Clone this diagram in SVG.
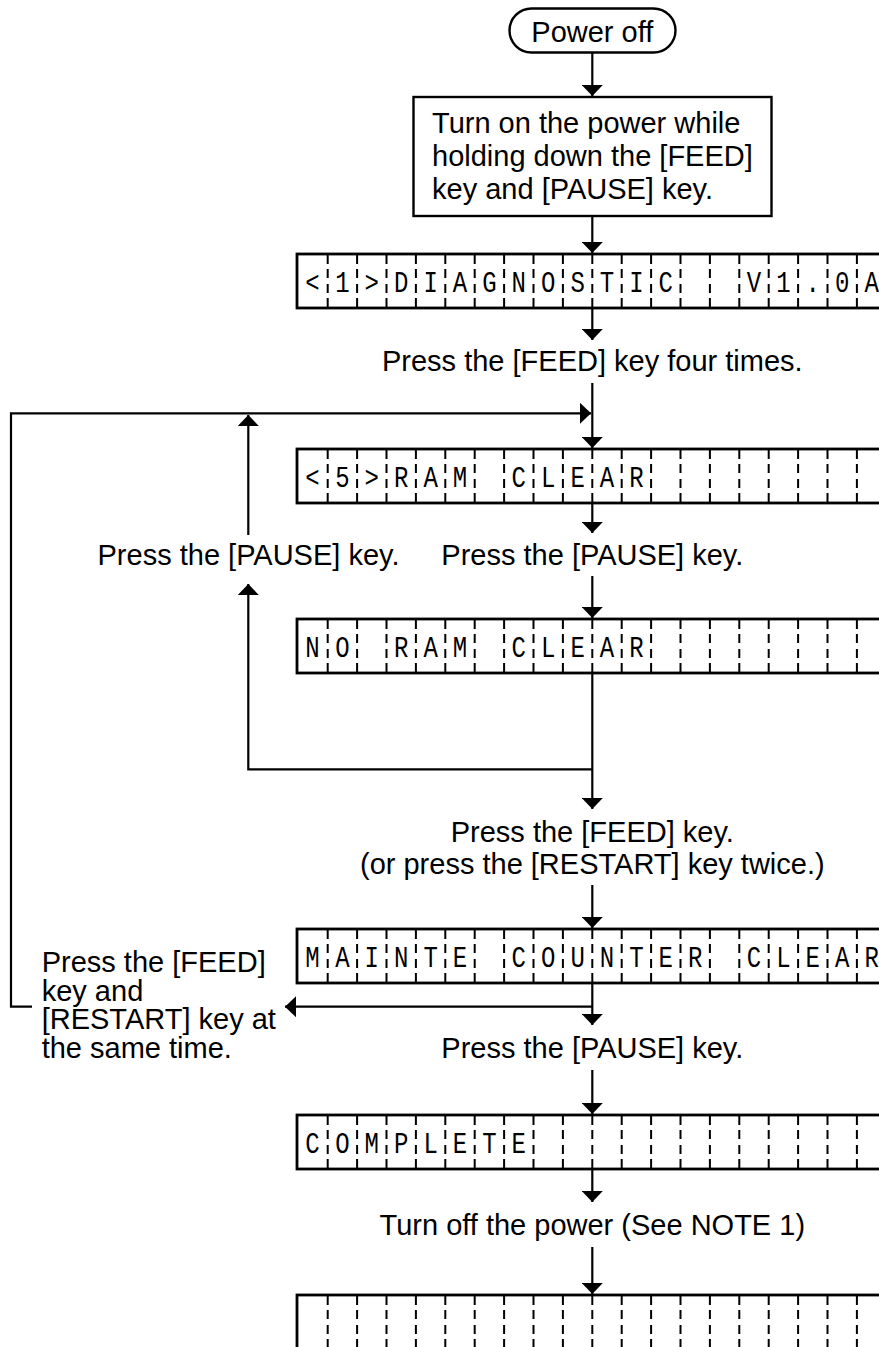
<svg xmlns="http://www.w3.org/2000/svg" xmlns:xlink="http://www.w3.org/1999/xlink" width="879" height="1347" viewBox="0 0 879 1347">
<style>
.t{font-family:"Liberation Sans",Arial,sans-serif;font-size:29px;fill:#000}
.c{text-anchor:middle}
.lcdt{font-family:"Liberation Mono","DejaVu Sans Mono",monospace;font-size:30px;fill:#000;text-anchor:middle}
.frame{fill:#fff;stroke:#000;stroke-width:2.8}
.div{stroke:#000;stroke-width:2;stroke-dasharray:10 5 9 6 9 5 10}
.ln{fill:none;stroke:#000;stroke-width:2.2}
.ar{marker-end:url(#ah)}
</style>
<defs>
<marker id="ah" viewBox="0 0 11 21" refX="11" refY="10.5" markerWidth="11" markerHeight="21" orient="auto" markerUnits="userSpaceOnUse">
<path d="M0,0 L11,10.5 L0,21 z" fill="#000"/>
</marker>
<g id="lcd">
<rect class="frame" x="297" y="0" width="620" height="54"/>
<g class="div">
<line x1="327.7" y1="0" x2="327.7" y2="54"/>
<line x1="357.1" y1="0" x2="357.1" y2="54"/>
<line x1="386.5" y1="0" x2="386.5" y2="54"/>
<line x1="415.9" y1="0" x2="415.9" y2="54"/>
<line x1="445.3" y1="0" x2="445.3" y2="54"/>
<line x1="474.7" y1="0" x2="474.7" y2="54"/>
<line x1="504.1" y1="0" x2="504.1" y2="54"/>
<line x1="533.5" y1="0" x2="533.5" y2="54"/>
<line x1="562.9" y1="0" x2="562.9" y2="54"/>
<line x1="592.3" y1="0" x2="592.3" y2="54"/>
<line x1="621.7" y1="0" x2="621.7" y2="54"/>
<line x1="651.1" y1="0" x2="651.1" y2="54"/>
<line x1="680.5" y1="0" x2="680.5" y2="54"/>
<line x1="709.9" y1="0" x2="709.9" y2="54"/>
<line x1="739.3" y1="0" x2="739.3" y2="54"/>
<line x1="768.7" y1="0" x2="768.7" y2="54"/>
<line x1="798.1" y1="0" x2="798.1" y2="54"/>
<line x1="827.5" y1="0" x2="827.5" y2="54"/>
<line x1="856.9" y1="0" x2="856.9" y2="54"/>
</g>
</g>
</defs>

<g id="connectors">
<path class="ln ar" d="M592.3,53 V96"/>
<path class="ln ar" d="M592.3,216 V253"/>
<path class="ln ar" d="M592.3,308 V340"/>
<path class="ln ar" d="M592.3,383 V448"/>
<path class="ln ar" d="M32,1006.7 H11 V413.3 H591"/>
<path class="ln ar" d="M592.3,503 V533"/>
<path class="ln ar" d="M592.3,576 V618"/>
<path class="ln ar" d="M248.3,535 V415"/>
<path class="ln ar" d="M592.3,673 V809"/>
<path class="ln ar" d="M592.3,769.3 H248.3 V584"/>
<path class="ln ar" d="M592.3,885 V928"/>
<path class="ln ar" d="M592.3,983 V1025"/>
<path class="ln ar" d="M592.3,1006.7 H285"/>
<path class="ln ar" d="M592.3,1070 V1114"/>
<path class="ln ar" d="M592.3,1169 V1202"/>
<path class="ln ar" d="M592.3,1247 V1294"/>
</g>

<g id="power-off">
<rect x="509.5" y="8.5" width="166" height="44" rx="22" ry="22" fill="#fff" stroke="#000" stroke-width="2.4"/>
<text class="t c" x="592.3" y="41.5">Power off</text>
</g>

<g id="turn-on">
<rect x="413.5" y="97" width="358" height="119" fill="#fff" stroke="#000" stroke-width="2.4"/>
<text class="t" x="432" y="133">Turn on the power while</text>
<text class="t" x="432" y="166">holding down the [FEED]</text>
<text class="t" x="432" y="198.5">key and [PAUSE] key.</text>
</g>

<g id="lcd-diagnostic">
<use xlink:href="#lcd" transform="translate(0,254)"/>
<text class="lcdt" transform="scale(0.8 1)" y="292" x="390.6 428 464.75 501.5 538.25 575 611.75 648.5 685.25 722 758.75 795.5 832.25 942.5 979.25 1016 1052.75 1089.5">&lt;1&gt;DIAGNOSTICV1.0A</text>
</g>

<g id="label-feed-four">
<text class="t c" x="592.3" y="371">Press the [FEED] key four times.</text>
</g>

<g id="lcd-ram-clear">
<use xlink:href="#lcd" transform="translate(0,449)"/>
<text class="lcdt" transform="scale(0.8 1)" y="487" x="390.6 428 464.75 501.5 538.25 575 648.5 685.25 722 758.75 795.5">&lt;5&gt;RAMCLEAR</text>
</g>

<g id="label-pause-left">
<text class="t c" x="248.5" y="565">Press the [PAUSE] key.</text>
</g>
<g id="label-pause-right">
<text class="t c" x="592.3" y="565">Press the [PAUSE] key.</text>
</g>

<g id="lcd-no-ram-clear">
<use xlink:href="#lcd" transform="translate(0,619)"/>
<text class="lcdt" transform="scale(0.8 1)" y="657" x="390.6 428 501.5 538.25 575 648.5 685.25 722 758.75 795.5">NORAMCLEAR</text>
</g>

<g id="label-feed">
<text class="t c" x="592.3" y="842">Press the [FEED] key.</text>
<text class="t c" x="592.3" y="874">(or press the [RESTART] key twice.)</text>
</g>

<g id="lcd-mainte">
<use xlink:href="#lcd" transform="translate(0,929)"/>
<text class="lcdt" transform="scale(0.8 1)" y="967" x="390.6 428 464.75 501.5 538.25 575 648.5 685.25 722 758.75 795.5 832.25 869 942.5 979.25 1016 1052.75 1089.5">MAINTECOUNTERCLEAR</text>
</g>

<g id="label-feed-restart">
<text class="t" x="41.7" y="972">Press the [FEED]</text>
<text class="t" x="41.7" y="1000.5">key and</text>
<text class="t" x="41.7" y="1029">[RESTART] key at</text>
<text class="t" x="41.7" y="1057.5">the same time.</text>
</g>

<g id="label-pause-bottom">
<text class="t c" x="592.3" y="1058">Press the [PAUSE] key.</text>
</g>

<g id="lcd-complete">
<use xlink:href="#lcd" transform="translate(0,1115)"/>
<text class="lcdt" transform="scale(0.8 1)" y="1153" x="390.6 428 464.75 501.5 538.25 575 611.75 648.5">COMPLETE</text>
</g>

<g id="label-turn-off">
<text class="t c" x="592.3" y="1235">Turn off the power (See NOTE 1)</text>
</g>

<g id="lcd-blank">
<use xlink:href="#lcd" transform="translate(0,1295)"/>
</g>
</svg>
